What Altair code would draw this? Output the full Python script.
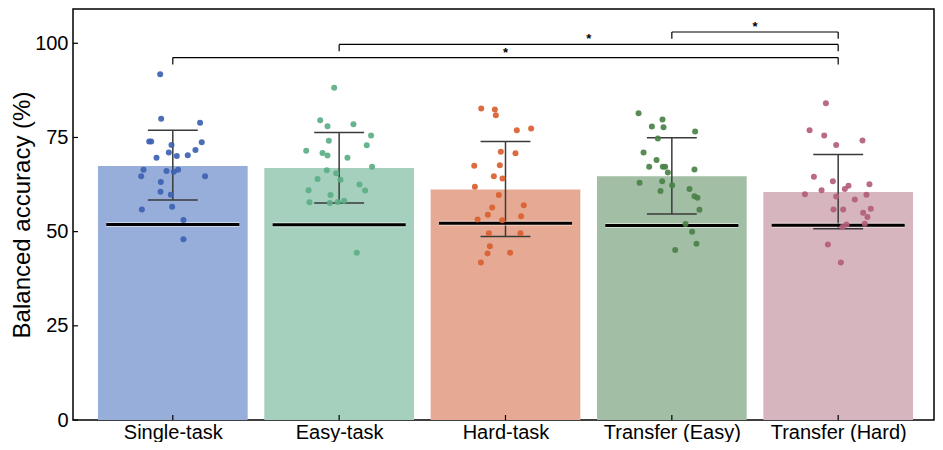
import json
import altair as alt
import pandas as pd

categories = ["Single-task", "Easy-task", "Hard-task", "Transfer (Easy)", "Transfer (Hard)"]
bar_means = [67.4, 66.9, 61.2, 64.7, 60.5]
err_low = [58.4, 57.6, 48.7, 54.7, 50.8]
err_high = [76.9, 76.3, 73.9, 74.9, 70.5]
chance_levels = [51.9, 51.8, 52.2, 51.6, 51.7]
bar_colors = ["#97AEDB", "#A5D0BE", "#E6AA94", "#A2BFA6", "#D7B5BE"]
point_colors = ["#3D62B3", "#5BAE85", "#D9602F", "#4A8147", "#B35E7B"]

single_vals = [91.8, 80.0, 78.9, 73.9, 73.9, 73.0, 73.7, 71.0, 71.7, 70.1, 70.3, 69.6, 66.4,
               64.7, 66.1, 65.9, 66.4, 64.7, 63.2, 60.6, 59.8, 55.9, 56.6, 53.1, 48.0]
single_jit = [-0.076, -0.070, 0.164, -0.142, -0.130, -0.008, 0.174, -0.024, 0.136, 0.024, 0.090,
              -0.098, -0.176, -0.190, -0.038, 0.006, 0.032, 0.194, -0.072, -0.074, -0.012,
              -0.186, -0.004, 0.064, 0.064]
easy_vals = [88.2, 79.6, 78.0, 78.5, 75.5, 74.1, 72.9, 71.5, 70.9, 70.2, 69.6, 67.2, 66.3,
             65.5, 64.0, 63.8, 62.5, 61.0, 60.9, 59.7, 57.8, 57.6, 57.9, 58.2, 44.4]
easy_jit = [-0.030, -0.114, -0.070, 0.086, 0.192, -0.062, 0.166, -0.198, -0.100, -0.070, 0.050,
            0.198, -0.074, -0.018, -0.130, 0.008, 0.122, -0.184, 0.156, -0.052, -0.178,
            -0.056, -0.008, 0.030, 0.106]
hard_vals = [82.7, 82.4, 80.9, 77.4, 76.9, 71.2, 70.8, 67.5, 67.6, 64.7, 64.1, 61.9, 59.7,
             56.4, 57.0, 54.5, 54.1, 53.2, 53.0, 49.6, 49.6, 46.1, 44.2, 44.4, 41.8]
hard_jit = [-0.146, -0.064, -0.058, 0.154, 0.068, -0.028, 0.060, -0.188, -0.034, -0.070, -0.018,
            -0.184, -0.040, -0.080, 0.110, -0.106, 0.094, -0.168, -0.020, -0.100, 0.090,
            -0.094, -0.108, 0.028, -0.148]
tr_easy_vals = [81.4, 79.8, 77.9, 77.7, 76.6, 74.7, 71.0, 69.0, 67.2, 67.2, 67.2, 65.7, 66.5,
                63.0, 63.4, 62.3, 60.8, 61.3, 59.4, 59.0, 55.8, 52.0, 50.0, 46.8, 45.1]
tr_easy_jit = [-0.200, -0.056, -0.120, -0.050, 0.140, -0.084, -0.170, -0.092, -0.136, -0.054,
               -0.040, -0.024, 0.136, -0.194, -0.058, 0.002, -0.068, 0.106, 0.136, 0.154,
               0.166, 0.082, 0.122, 0.148, 0.020]
tr_hard_vals = [84.1, 76.9, 75.5, 73.0, 74.2, 64.6, 63.4, 62.2, 61.3, 62.6, 59.9, 61.0, 59.8,
                59.3, 58.5, 55.9, 55.9, 56.1, 55.0, 53.9, 51.9, 51.2, 52.1, 46.6, 41.8]
tr_hard_jit = [-0.074, -0.172, -0.084, -0.012, 0.146, -0.146, -0.032, 0.062, 0.040, 0.188,
               -0.200, -0.100, 0.170, -0.012, 0.100, -0.028, 0.030, 0.196, 0.150, 0.176,
               0.050, 0.026, 0.160, -0.062, 0.016]

bracket_start = [0, 1, 3]
bracket_end = [4, 4, 4]
bracket_level = [96.2, 99.7, 103.0]
bracket_label = ["*", "*", "*"]
y_ticks = [0, 25, 50, 75, 100]

FONT = "Liberation Sans"
BAR_HALF = 0.45
CAP_HALF = 0.15
CHANCE_HALF = 0.4
TICK_DROP = 1.8

# ---- tables ----
idx = list(range(len(categories)))
bars = pd.DataFrame({
    "idx": idx, "cat": categories, "mean": bar_means, "lo": err_low, "hi": err_high,
    "chance": chance_levels, "color": bar_colors,
})
bars["x1"] = bars["idx"] - BAR_HALF
bars["x2"] = bars["idx"] + BAR_HALF
bars["c1"] = bars["idx"] - CAP_HALF
bars["c2"] = bars["idx"] + CAP_HALF
bars["l1"] = bars["idx"] - CHANCE_HALF
bars["l2"] = bars["idx"] + CHANCE_HALF

groups = [single_vals, easy_vals, hard_vals, tr_easy_vals, tr_hard_vals]
jits = [single_jit, easy_jit, hard_jit, tr_easy_jit, tr_hard_jit]
rows = []
for i, (vals, jit) in enumerate(zip(groups, jits)):
    for v, j in zip(vals, jit):
        rows.append({"x": i + j, "v": v, "color": point_colors[i]})
points = pd.DataFrame(rows)

br = pd.DataFrame({"s": bracket_start, "e": bracket_end, "y": bracket_level, "lab": bracket_label})
br["mid"] = (br["s"] + br["e"]) / 2
br["yd"] = br["y"] - TICK_DROP

yt = pd.DataFrame({"v": y_ticks})

xs = alt.Scale(domain=[-0.6, 4.576], nice=False, zero=False)
ys = alt.Scale(domain=[0, 109.1], nice=False, zero=False)

label_expr = json.dumps(categories) + "[datum.value]"
x_axis = alt.Axis(values=idx, labelExpr=label_expr, title=None, ticks=False, domain=False,
                  grid=False, labelFontSize=20, labelFont=FONT, labelColor="black",
                  labelBaseline="alphabetic", labelPadding=18)
y_axis = alt.Axis(values=y_ticks, title="Balanced accuracy (%)", ticks=False, domain=False,
                  grid=False, labelFontSize=20, labelFont=FONT, labelColor="black",
                  labelPadding=5, titleFontSize=24, titleFont=FONT, titleFontWeight="normal",
                  titleColor="black", titlePadding=0)

base_bars = alt.Chart(bars)
bar_layer = base_bars.mark_rect().encode(
    x=alt.X("x1:Q", scale=xs, axis=x_axis),
    x2="x2:Q",
    y=alt.Y("mean:Q", scale=ys, axis=y_axis),
    y2=alt.datum(0),
    color=alt.Color("color:N", scale=None),
)
err_v = base_bars.mark_rule(color="#3a3a3a", strokeWidth=1.5).encode(
    x=alt.X("idx:Q", scale=xs), y=alt.Y("lo:Q", scale=ys), y2="hi:Q")
err_top = base_bars.mark_rule(color="#3a3a3a", strokeWidth=1.5).encode(
    x=alt.X("c1:Q", scale=xs), x2="c2:Q", y=alt.Y("hi:Q", scale=ys))
err_bot = base_bars.mark_rule(color="#3a3a3a", strokeWidth=1.5).encode(
    x=alt.X("c1:Q", scale=xs), x2="c2:Q", y=alt.Y("lo:Q", scale=ys))
chance_halo = base_bars.mark_rule(color="white", strokeWidth=5, opacity=0.5).encode(
    x=alt.X("l1:Q", scale=xs), x2="l2:Q", y=alt.Y("chance:Q", scale=ys))
chance = base_bars.mark_rule(color="black", strokeWidth=3).encode(
    x=alt.X("l1:Q", scale=xs), x2="l2:Q", y=alt.Y("chance:Q", scale=ys))

pts = alt.Chart(points).mark_circle(size=36, opacity=0.92).encode(
    x=alt.X("x:Q", scale=xs), y=alt.Y("v:Q", scale=ys),
    color=alt.Color("color:N", scale=None))

base_br = alt.Chart(br)
br_h = base_br.mark_rule(color="black", strokeWidth=1.2).encode(
    x=alt.X("s:Q", scale=xs), x2="e:Q", y=alt.Y("y:Q", scale=ys))
br_l = base_br.mark_rule(color="black", strokeWidth=1.2).encode(
    x=alt.X("s:Q", scale=xs), y=alt.Y("y:Q", scale=ys), y2="yd:Q")
br_r = base_br.mark_rule(color="black", strokeWidth=1.2).encode(
    x=alt.X("e:Q", scale=xs), y=alt.Y("y:Q", scale=ys), y2="yd:Q")
br_t = base_br.mark_text(font=FONT, fontSize=13, fontWeight="bold", baseline="alphabetic",
                         dy=-1, color="black").encode(
    x=alt.X("mid:Q", scale=xs), y=alt.Y("y:Q", scale=ys), text="lab:N")

ytick = alt.Chart(yt).mark_rule(color="black", strokeWidth=1.2).encode(
    y=alt.Y("v:Q", scale=ys), x=alt.value(0), x2=alt.value(5))
xtick = base_bars.mark_rule(color="black", strokeWidth=1.2).encode(
    x=alt.X("idx:Q", scale=xs), y=alt.value(411), y2=alt.value(406))

chart = alt.layer(
    bar_layer, err_v, err_top, err_bot, chance_halo, chance, pts,
    br_h, br_l, br_r, br_t, ytick, xtick,
).properties(
    width=861, height=411,
    padding={"left": 65, "top": 1, "right": 1, "bottom": 22},
    autosize=alt.AutoSizeParams(type="none"),
).configure_view(stroke="black", strokeWidth=1.5)

chart.save("out.html", embed_options={"renderer": "svg", "actions": False})
